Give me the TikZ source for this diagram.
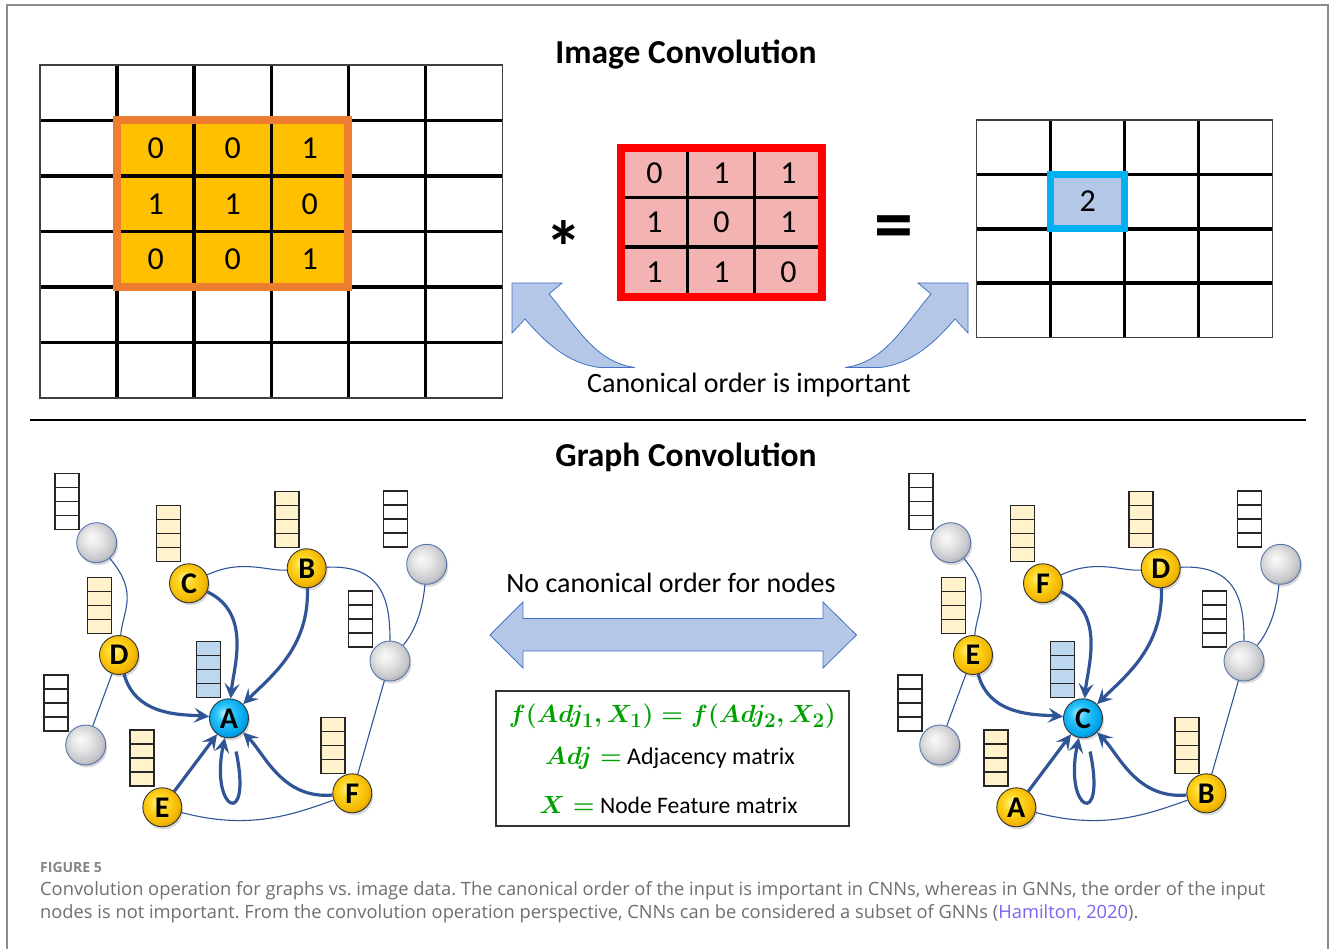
\documentclass[tikz,border=0pt]{standalone}
\usepackage{amsmath}
\usepackage{fontspec}
\setmainfont{Carlito}
\newfontfamily\capfont{Open Sans}
\usepackage{xcolor}
\usepackage{tikz}
\usetikzlibrary{arrows.meta,shadows}
\frenchspacing

\definecolor{gridorange}{HTML}{ED7D31}
\definecolor{gridgold}{HTML}{FFC000}
\definecolor{kernred}{HTML}{FF0000}
\definecolor{kernpink}{HTML}{F4B3B3}
\definecolor{outcyan}{HTML}{00B0F0}
\definecolor{paleblue}{HTML}{B4C7E7}
\definecolor{arrowrim}{HTML}{4472C4}
\definecolor{edgeblue}{HTML}{2F5597}
\definecolor{beige}{HTML}{FFF2CC}
\definecolor{vecblue}{HTML}{BDD7EE}
\definecolor{eqgreen}{HTML}{00A000}
\definecolor{capgray}{HTML}{6E6E6E}
\definecolor{citeblue}{HTML}{7466F0}

\pgfdeclareradialshading{goldball}{\pgfpoint{-7bp}{7bp}}{rgb(0bp)=(1,0.95,0.62); rgb(10bp)=(1,0.85,0.15); rgb(24bp)=(0.96,0.72,0); rgb(32bp)=(0.78,0.56,0); rgb(50bp)=(0.78,0.56,0)}
\pgfdeclareradialshading{blueball}{\pgfpoint{-7bp}{7bp}}{rgb(0bp)=(0.72,0.94,1); rgb(10bp)=(0.2,0.78,0.98); rgb(24bp)=(0,0.65,0.93); rgb(32bp)=(0,0.48,0.76); rgb(50bp)=(0,0.48,0.76)}
\pgfdeclareradialshading{grayball}{\pgfpoint{-7bp}{7bp}}{rgb(0bp)=(0.98,0.98,0.98); rgb(12bp)=(0.9,0.9,0.9); rgb(24bp)=(0.78,0.78,0.8); rgb(32bp)=(0.6,0.6,0.63); rgb(50bp)=(0.6,0.6,0.63)}

% green formula parts
\newcommand{\fpair}{\ensuremath{\boldsymbol{f(Adj_1,X_1)=f(Adj_2,X_2)}}}
\newcommand{\fadj}{\ensuremath{\boldsymbol{Adj=}}}
\newcommand{\fx}{\ensuremath{\boldsymbol{X=}}}

% one feature vector: left x, top y, fill
\newcommand{\featvec}[3]{%
	\draw[vec,fill=#3] (#1,-#2) rectangle ++(24,-56);
	\foreach \k in {1,2,3} \draw[vec] (#1,{-#2-14*\k}) -- ++(24,0);
}

% one graph: labels of hub, then of the five neighbours
\newcommand{\graphpanel}[6]{%
	\featvec{55}{473.3}{white}
	\featvec{156.7}{505.7}{beige}
	\featvec{275}{491.7}{beige}
	\featvec{383.3}{491}{white}
	\featvec{87.7}{577.7}{beige}
	\featvec{348.3}{591}{white}
	\featvec{196.7}{641.7}{vecblue}
	\featvec{44}{675}{white}
	\featvec{130}{730}{beige}
	\featvec{321}{717.7}{beige}
	
	\node[other] (g1) at (96.7,-542.7) {};
	\node[other] (g2) at (426.7,-564.3) {};
	\node[other] (g3) at (390,-661) {};
	\node[other] (g4) at (85.7,-745) {};
	\node[known] (n1) at (189,-583.3) {#2};
	\node[known] (n2) at (306.7,-568.3) {#3};
	\node[known] (n3) at (119,-655) {#4};
	\node[known] (n4) at (162.3,-807.3) {#5};
	\node[known] (n5) at (352.3,-793.3) {#6};
	\node[hub] (hub) at (229,-718.3) {#1};
	
	\draw[link] (g1) to[out=-50,in=85,looseness=1.2] (n3);
	\draw[link] (n3) -- (g4);
	\draw[link] (n1) to[out=25,in=185] (n2);
	\draw[link] (n2) to[out=3,in=90,looseness=1.3] (g3);
	\draw[link] (g2) to[out=-95,in=50] (g3);
	\draw[link] (g3) -- (n5);
	\draw[link] (n4) to[out=-15,in=200] (n5);
	
	\draw[agg] (n1) to[out=-25,in=85] (hub);
	\draw[agg] (n2) to[out=-88,in=45] (hub);
	\draw[agg] (n3) to[out=-75,in=175] (hub);
	\draw[agg] (n4) -- (hub);
	\draw[agg] (n5) to[out=185,in=-45] (hub);
	\draw[agg,shorten <=14pt] (hub) to[out=-78,in=-102,min distance=95pt] (hub);
}

\begin{document}
\begin{tikzpicture}[
		x=1pt, y=1pt,
		cell/.style={line width=3.5pt, black},
		rim/.style={line width=1.2pt, black!75},
		digit/.style={font=\fontsize{32}{32}\selectfont},
		heading/.style={font=\fontsize{33.5}{34}\selectfont\bfseries},
		say/.style={font=\fontsize{28}{28}\selectfont},
		block/.style={fill=paleblue, draw=arrowrim, line width=0.8pt},
		vec/.style={line width=1.2pt, black!85},
		ball/.style={circle, minimum size=39pt, inner sep=0pt, draw=black!80, line width=0.9pt, shade,
			font=\fontsize{30}{30}\selectfont\bfseries,
			drop shadow={shadow xshift=1.5pt, shadow yshift=-2.5pt, opacity=0.3}},
		known/.style={ball, shading=goldball},
		hub/.style={ball, shading=blueball},
		other/.style={ball, shading=grayball, draw=arrowrim!70!gray, minimum size=40pt},
		link/.style={edgeblue, line width=1.1pt},
		agg/.style={edgeblue, line width=3.2pt, -{Stealth[length=15pt,width=15pt,inset=6pt]}},
		capline/.style={anchor=west, inner sep=0pt, text=capgray, font=\capfont\fontsize{18.3}{20}\selectfont}
	]
	\useasboundingbox (0,0) rectangle (1330,-949);
	
	% frame and separator
	\draw[gray!90, line width=1.8pt] (7,-949) -- (7,-5) -- (1328,-5) -- (1328,-949);
	\draw[line width=2.5pt] (30,-420) -- (1306,-420);
	
	\node[heading] (imgtitle) at (686,-55) {Image Convolution};
	\node[heading] (graphtitle) at (686,-457) {Graph Convolution};
	
	% input image
	\fill[gridgold] (117.1,-120.5) rectangle (348.4,-287);
	\foreach \i in {1,...,5} \draw[cell] ({40+77.1*\i},-65) -- ++(0,-333);
	\foreach \j in {1,...,5} \draw[cell] (40,{-65-55.5*\j}) -- ++(462.6,0);
	\draw[rim] (40,-65) rectangle (502.6,-398);
	\draw[gridorange, line width=8pt] (117.1,-120.5) rectangle (348.4,-287);
	\foreach \row/\vals in {1/{0,0,1},2/{1,1,0},3/{0,0,1}}
		\foreach \v [count=\c] in \vals
			\node[digit] (img\row\c) at ({40+77.1*(\c+0.5)},{-65-55.5*(\row+0.5)}) {\v};
	
	\node[inner sep=0pt, anchor=north, font=\fontsize{74}{74}\selectfont\bfseries] (conv) at (563.5,-220) {*};
	
	% kernel
	\fill[kernpink] (621,-148) rectangle (822,-297);
	\foreach \x in {687.5,754.5} \draw[cell] (\x,-148) -- (\x,-297);
	\foreach \y in {197.5,247} \draw[cell] (621,-\y) -- (822,-\y);
	\draw[kernred, line width=8pt] (621,-148) rectangle (822,-297);
	\foreach \row/\vals in {1/{0,1,1},2/{1,0,1},3/{1,1,0}}
		\foreach \v [count=\c] in \vals
			\node[digit] (ker\row\c) at ({621+67*(\c-0.5)},{-148-49.7*(\row-0.5)}) {\v};
	
	\node[font=\fontsize{78}{78}\selectfont\bfseries] (equal) at (894,-233) {=};
	
	% output map
	\fill[paleblue] (1050.7,-174.4) rectangle (1124.7,-228.8);
	\foreach \i in {1,2,3} \draw[cell] ({976.7+74*\i},-120) -- ++(0,-217.7);
	\foreach \j in {1,2,3} \draw[cell] (976.7,{-120-54.4*\j}) -- ++(296,0);
	\draw[rim] (976.7,-120) rectangle (1272.7,-337.7);
	\draw[outcyan, line width=7pt] (1050.7,-174.4) rectangle (1124.7,-228.8);
	\node[digit] (out22) at (1087.7,-201.6) {2};
	
	% bent arrows
	\draw[block] (512,-283) -- (562,-283) -- (549,-294) .. controls (578,-328) and (595,-362) .. (635,-367.5) -- (600,-367.5) .. controls (568,-364) and (545,-342) .. (525,-319) -- (512,-333) -- cycle;
	\begin{scope}[xshift=1480pt, xscale=-1]
		\draw[block] (512,-283) -- (562,-283) -- (549,-294) .. controls (578,-328) and (595,-362) .. (635,-367.5) -- (600,-367.5) .. controls (568,-364) and (545,-342) .. (525,-319) -- (512,-333) -- cycle;
	\end{scope}
	\node[say] (canon) at (749,-385) {Canonical order is important};
	
	% graphs
	\begin{scope}[name prefix=L-]
		\graphpanel{A}{C}{B}{D}{E}{F}
	\end{scope}
	\begin{scope}[xshift=854pt, name prefix=R-]
		\graphpanel{C}{F}{D}{E}{A}{B}
	\end{scope}
	
	% middle
	\node[say] (nocanon) at (671,-583) {No canonical order for nodes};
	\draw[block] (490,-635) -- (523,-602) -- (523,-618.5) -- (823,-618.5) -- (823,-602) -- (856.5,-635) -- (823,-668) -- (823,-651) -- (523,-651) -- (523,-668) -- cycle;
	
	\node[draw=black!80, line width=1.2pt, minimum width=353pt, minimum height=135pt, inner sep=0pt] (eqbox) at (672.5,-758.5) {};
	\node[font=\fontsize{30.5}{30}\selectfont, text=eqgreen] (pair) at (672.3,-716.7) {\fpair};
	\node[font=\fontsize{24}{24}\selectfont] (adjline) at (670,-758) {\textcolor{eqgreen}{\fadj} Adjacency matrix};
	\node[font=\fontsize{23.6}{24}\selectfont] (xline) at (668.5,-805) {\textcolor{eqgreen}{\fx} Node Feature matrix};
	
	% caption
	\node[capline, font=\capfont\bfseries\fontsize{14}{16}\selectfont, text=capgray!85] (figno) at (40,-867) {FIGURE 5};
	\node[capline] (cap1) at (40,-891) {Convolution operation for graphs vs. image data. The canonical order of the input is important in CNNs, whereas in GNNs, the order of the input};
	\node[capline] (cap2) at (40,-914) {nodes is not important. From the convolution operation perspective, CNNs can be considered a subset of GNNs ({\color{citeblue}Hamilton, 2020}).};
\end{tikzpicture}
\end{document}
